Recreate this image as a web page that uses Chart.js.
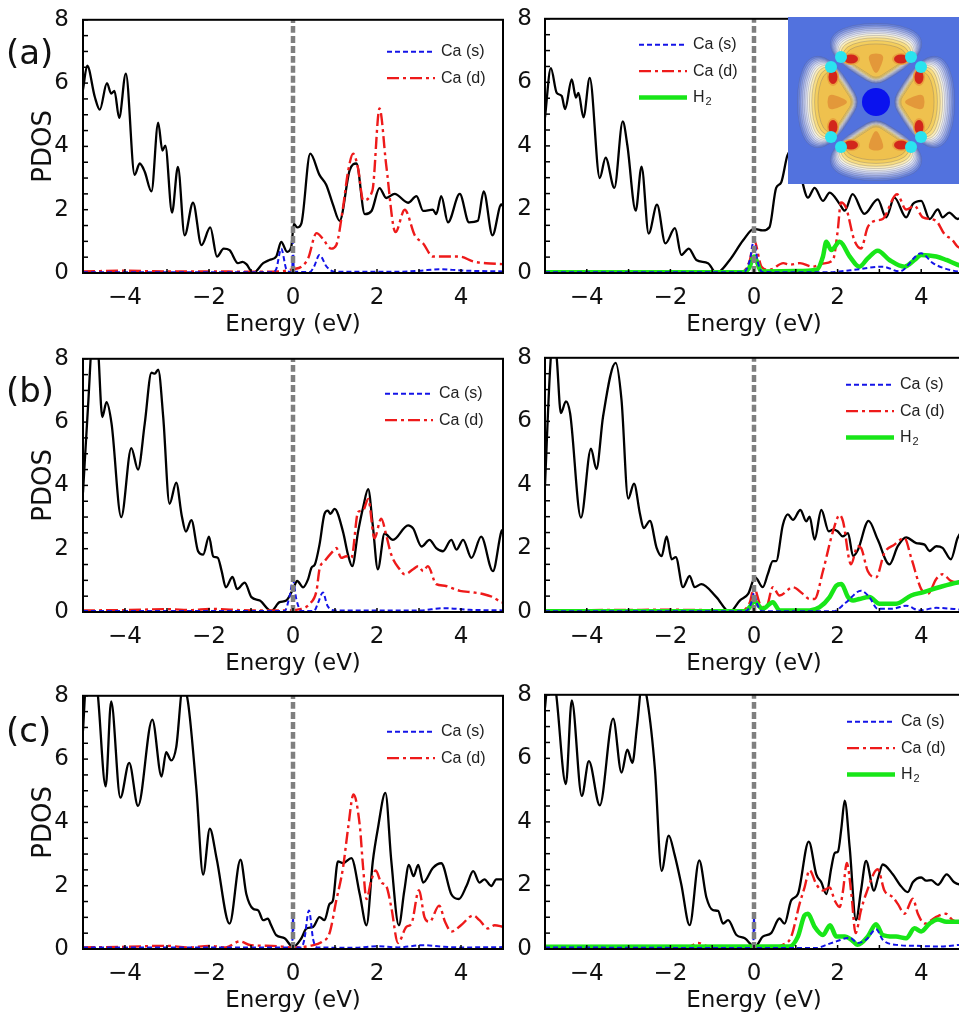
<!DOCTYPE html>
<html>
<head>
<meta charset="utf-8">
<script src="https://cdn.jsdelivr.net/npm/chart.js@4.4.1/dist/chart.umd.min.js"></script>
<style>
  body { margin: 0; width: 959px; height: 1017px; overflow: hidden; background: #fff; position: relative; }
  canvas { position: absolute; }
  .tag { position: absolute; font: 34px "DejaVu Sans"; line-height: 1; color: #111; }
</style>
</head>
<body>
<canvas id="a1" width="510" height="340" style="left:0;top:0"></canvas>
<canvas id="a2" width="480" height="340" style="left:490px;top:0"></canvas>
<canvas id="b1" width="510" height="340" style="left:0;top:339px"></canvas>
<canvas id="b2" width="480" height="340" style="left:490px;top:339px"></canvas>
<canvas id="c1" width="510" height="340" style="left:0;top:676px"></canvas>
<canvas id="c2" width="480" height="340" style="left:490px;top:676px"></canvas>
<canvas id="inset" width="175" height="167" style="left:788px;top:17px"></canvas>
<div class="tag" style="left:6px;top:35px">(a)</div>
<div class="tag" style="left:6px;top:373px">(b)</div>
<div class="tag" style="left:6px;top:713px">(c)</div>
<script>
// axes
const xTicks = [-4, -2, 0, 2, 4];
const yTicks = [0, 2, 4, 6, 8];
const zeroLine = [[0, 0], [0, 8]];

// (a) without H2
const a1Total = [[-5,5.8],[-4.9,6.55],[-4.72,5.57],[-4.6,5.16],[-4.43,6.0],[-4.33,5.67],[-4.25,5.75],[-4.14,4.9],[-3.98,6.3],[-3.77,3.1],[-3.65,3.46],[-3.53,3.2],[-3.37,2.58],[-3.21,4.75],[-3.11,3.87],[-3.04,4.02],[-2.88,1.91],[-2.74,3.35],[-2.58,1.19],[-2.38,2.22],[-2.18,0.88],[-1.97,1.44],[-1.81,0.52],[-1.65,0.77],[-1.51,0.72],[-1.31,0.31],[-1.2,0.35],[-1.11,0.28],[-0.95,0.0],[-0.71,0.31],[-0.56,0.41],[-0.4,0.52],[-0.28,0.98],[-0.14,0.67],[-0.04,0.83],[0.02,1.55],[0.1,1.44],[0.2,1.57],[0.41,3.77],[0.63,3.1],[0.79,2.79],[0.95,2.17],[1.11,1.65],[1.35,3.25],[1.51,3.46],[1.71,1.86],[1.87,1.96],[2.06,2.68],[2.22,2.37],[2.42,2.5],[2.74,2.22],[2.94,2.43],[3.1,1.96],[3.33,2.0],[3.41,1.86],[3.53,2.43],[3.69,1.6],[3.97,2.5],[4.19,1.6],[4.4,1.65],[4.54,2.58],[4.75,1.19],[4.96,2.17],[5,2.1]];
const a1CaS = [[-5,0.02],[-0.5,0.02],[-0.4,0.12],[-0.28,0.77],[-0.16,0.12],[-0.06,0.03],[-0.02,0.05],[0,1.0],[0.02,0.05],[0.4,0.03],[0.5,0.2],[0.63,0.57],[0.8,0.2],[1.0,0.04],[2.5,0.04],[3.0,0.07],[3.5,0.12],[4.0,0.08],[5,0.05]];
const a1CaD = [[-5,0.05],[-4,0.07],[-3,0.05],[-2,0.05],[-1,0.04],[-0.3,0.05],[0,0.12],[0.2,0.2],[0.36,0.46],[0.56,1.26],[0.71,1.08],[0.91,0.77],[1.03,0.88],[1.19,2.06],[1.31,3.2],[1.43,3.77],[1.55,3.3],[1.67,2.3],[1.89,2.6],[2.06,5.2],[2.22,3.4],[2.44,1.29],[2.66,2.0],[2.9,1.19],[3.1,0.93],[3.33,0.52],[3.97,0.52],[4.3,0.36],[4.6,0.31],[5,0.28]];

// (a) with H2
const a2Total = [[-5,4.9],[-4.86,6.45],[-4.72,5.67],[-4.6,5.57],[-4.52,5.16],[-4.36,6.09],[-4.26,5.52],[-4.2,5.67],[-4.08,4.9],[-3.93,6.14],[-3.69,2.99],[-3.55,3.63],[-3.34,2.68],[-3.14,4.77],[-3.03,4.02],[-2.83,1.96],[-2.69,3.35],[-2.52,1.24],[-2.32,2.15],[-2.12,0.93],[-1.89,1.41],[-1.74,0.57],[-1.56,0.77],[-1.38,0.41],[-1.1,0.31],[-0.9,0.0],[-0.58,0.41],[-0.26,1.03],[0,1.39],[0.21,1.34],[0.37,1.44],[0.53,2.68],[0.65,2.85],[0.8,3.7],[0.95,3.9],[1.1,3.3],[1.17,2.8],[1.29,2.37],[1.45,2.68],[1.65,2.27],[1.81,2.53],[2.05,2.17],[2.17,1.96],[2.36,2.48],[2.64,1.86],[2.96,2.32],[3.16,1.75],[3.36,2.37],[3.64,1.75],[3.8,2.17],[4.0,2.27],[4.2,1.7],[4.4,2.0],[4.51,1.75],[4.67,1.9],[4.87,1.7],[5,1.8]];
const a2CaS = [[-5,0.02],[-0.25,0.02],[-0.1,0.4],[0,1.05],[0.08,0.4],[0.2,0.03],[1.8,0.02],[2.05,0.05],[2.4,0.1],[3.08,0.2],[3.48,0.05],[4.0,0.62],[4.28,0.31],[4.55,0.15],[4.87,0.05],[5,0.04]];
const a2CaD = [[-5,0.04],[-0.3,0.04],[-0.1,0.4],[0,1.03],[0.18,0.2],[0.37,0.1],[0.7,0.31],[0.85,0.26],[1.1,0.31],[1.4,0.2],[1.65,0.3],[1.89,0.41],[2.0,1.3],[2.08,2.22],[2.2,2.06],[2.4,1.03],[2.56,0.77],[2.72,1.44],[2.92,1.65],[3.08,1.7],[3.42,2.48],[3.64,2.0],[3.84,2.11],[4.04,1.75],[4.35,1.65],[4.55,1.24],[4.75,1.03],[4.87,0.83],[5,0.75]];
const a2H2 = [[-5,0.02],[-0.3,0.02],[-0.12,0.15],[0,0.52],[0.18,0.05],[1.0,0.06],[1.5,0.1],[1.65,0.52],[1.73,0.98],[1.85,0.72],[2.05,0.98],[2.29,0.52],[2.52,0.2],[2.72,0.46],[2.96,0.7],[3.24,0.41],[3.6,0.2],[3.84,0.41],[4.0,0.57],[4.36,0.52],[4.6,0.41],[4.87,0.26],[5,0.22]];

// (b) without H2
const b1Total = [[-5,3.78],[-4.88,6.5],[-4.76,8.8],[-4.66,8.6],[-4.54,6.16],[-4.44,6.63],[-4.32,5.95],[-4.09,3.0],[-3.85,5.18],[-3.69,4.5],[-3.53,5.95],[-3.37,7.56],[-3.29,7.53],[-3.21,7.66],[-3.09,6.16],[-2.94,3.42],[-2.78,4.09],[-2.65,3.05],[-2.55,2.54],[-2.42,2.9],[-2.26,1.92],[-2.14,1.81],[-2.0,2.38],[-1.9,1.76],[-1.79,1.71],[-1.7,1.3],[-1.6,0.78],[-1.44,1.11],[-1.33,0.72],[-1.15,0.93],[-0.99,0.47],[-0.79,0.36],[-0.52,0.03],[-0.32,0.31],[-0.16,0.36],[0,0.72],[0.1,0.98],[0.24,0.78],[0.36,1.04],[0.44,1.4],[0.52,1.5],[0.63,2.12],[0.75,3.1],[0.83,3.2],[0.89,3.1],[0.99,3.26],[1.19,2.54],[1.31,1.81],[1.41,1.45],[1.55,2.54],[1.67,3.31],[1.79,3.88],[1.9,2.74],[2.02,1.35],[2.18,2.48],[2.38,2.28],[2.74,2.74],[2.86,2.64],[3.06,2.07],[3.25,2.28],[3.41,2.02],[3.57,1.92],[3.77,2.28],[3.89,1.97],[4.05,2.28],[4.25,1.71],[4.48,2.38],[4.76,1.29],[4.96,2.54],[5,2.6]];
const b1CaS = [[-5,0.03],[-0.2,0.03],[-0.08,0.5],[0,1.0],[0.08,0.4],[0.2,0.03],[0.5,0.03],[0.6,0.3],[0.71,0.62],[0.82,0.2],[1.0,0.05],[3.0,0.05],[3.6,0.12],[4.2,0.07],[5,0.05]];
const b1CaD = [[-5,0.05],[-4,0.06],[-3,0.09],[-2.4,0.06],[-2,0.1],[-1,0.05],[-0.2,0.05],[0.2,0.1],[0.4,0.26],[0.56,0.67],[0.63,1.35],[0.75,1.6],[0.95,1.92],[1.03,2.02],[1.15,1.71],[1.27,1.76],[1.39,1.71],[1.55,3.16],[1.67,3.21],[1.79,3.57],[1.94,2.33],[2.1,2.95],[2.22,2.43],[2.34,1.81],[2.54,1.35],[2.66,1.19],[2.86,1.35],[2.98,1.45],[3.1,1.29],[3.21,1.45],[3.41,0.88],[3.61,0.83],[3.73,0.78],[3.97,0.67],[4.29,0.62],[4.52,0.57],[4.76,0.47],[4.96,0.31],[5,0.3]];

// (b) with H2
const b2Total = [[-5,4.0],[-4.88,7.6],[-4.8,8.8],[-4.72,8.0],[-4.62,6.26],[-4.5,6.63],[-4.4,6.26],[-4.14,2.97],[-3.9,5.14],[-3.77,4.5],[-3.61,6.16],[-3.31,7.84],[-3.17,6.68],[-3.01,3.57],[-2.87,4.04],[-2.73,3.1],[-2.64,2.64],[-2.49,2.87],[-2.33,2.02],[-2.21,1.76],[-2.09,2.38],[-1.97,1.66],[-1.87,1.73],[-1.7,0.78],[-1.54,1.14],[-1.42,0.78],[-1.26,0.88],[-0.9,0.47],[-0.58,0.0],[-0.34,0.36],[-0.14,0.57],[0.03,1.09],[0.21,0.78],[0.33,1.19],[0.45,1.6],[0.53,1.6],[0.69,2.74],[0.81,3.07],[0.93,2.9],[1.11,3.21],[1.25,2.85],[1.33,3.0],[1.45,2.28],[1.61,3.21],[1.79,2.54],[1.89,2.59],[2.0,2.54],[2.12,2.38],[2.25,2.48],[2.37,1.76],[2.49,1.97],[2.74,2.87],[2.96,2.28],[3.24,1.5],[3.44,2.07],[3.64,2.35],[3.88,2.17],[4.08,2.12],[4.2,1.92],[4.36,2.07],[4.51,2.02],[4.71,1.66],[4.87,2.33],[5,2.6]];
const b2CaS = [[-5,0.02],[-0.2,0.02],[-0.06,0.3],[0,0.6],[0.06,0.3],[0.2,0.02],[1.9,0.02],[2.2,0.3],[2.56,0.67],[2.76,0.47],[2.96,0.1],[3.3,0.1],[3.64,0.2],[3.96,0.05],[4.36,0.13],[5,0.07]];
const b2CaD = [[-5,0.05],[-2,0.07],[-0.3,0.05],[-0.1,0.3],[0,0.78],[0.14,0.26],[0.29,0.15],[0.45,0.78],[0.61,0.52],[0.93,0.78],[1.17,0.57],[1.33,0.41],[1.45,0.41],[1.65,1.29],[1.89,2.54],[2.05,3.05],[2.13,2.85],[2.32,1.5],[2.48,2.07],[2.56,2.02],[2.72,1.29],[2.92,1.09],[3.12,1.86],[3.36,2.12],[3.6,2.33],[3.76,1.71],[4.0,0.72],[4.16,0.57],[4.36,1.04],[4.51,1.19],[4.71,0.98],[4.87,0.93],[5,0.9]];
const b2H2 = [[-5,0.02],[-0.2,0.02],[-0.08,0.2],[0,0.34],[0.21,0.1],[0.45,0.31],[0.61,0.05],[1.33,0.05],[1.57,0.15],[1.81,0.47],[1.97,0.83],[2.09,0.88],[2.25,0.47],[2.37,0.36],[2.52,0.41],[2.76,0.47],[3.0,0.26],[3.4,0.26],[3.76,0.52],[4.04,0.62],[4.43,0.78],[4.87,0.93],[5,0.95]];

// (c) without H2
const c1Total = [[-5,6.9],[-4.92,8.6],[-4.8,8.9],[-4.66,8.2],[-4.46,5.14],[-4.33,7.82],[-4.11,4.78],[-3.9,5.88],[-3.69,4.52],[-3.35,7.25],[-3.13,5.45],[-3.02,6.22],[-2.9,5.96],[-2.78,6.38],[-2.62,8.3],[-2.5,7.8],[-2.3,5.04],[-2.14,2.35],[-1.98,3.8],[-1.82,2.87],[-1.51,0.8],[-1.25,2.82],[-1.11,1.73],[-0.95,1.27],[-0.83,1.22],[-0.71,0.91],[-0.6,0.96],[-0.52,0.75],[-0.4,0.44],[-0.2,0.34],[0,0.06],[0.2,0.34],[0.32,0.65],[0.48,0.7],[0.63,1.01],[0.75,0.91],[0.87,1.42],[0.95,1.53],[1.07,2.77],[1.19,2.71],[1.39,2.87],[1.59,1.73],[1.75,0.75],[1.9,2.77],[2.02,3.8],[2.2,4.93],[2.34,2.79],[2.52,0.75],[2.65,1.84],[2.76,2.66],[2.87,2.3],[2.98,2.66],[3.1,2.1],[3.33,2.56],[3.53,2.71],[3.77,1.73],[3.95,1.58],[4.13,1.99],[4.29,2.46],[4.44,2.1],[4.56,2.2],[4.72,1.99],[4.84,2.2],[5,2.2]];
const c1CaS = [[-5,0.05],[-0.02,0.05],[0,1.0],[0.02,0.05],[0.2,0.05],[0.27,0.3],[0.38,1.22],[0.48,0.3],[0.58,0.05],[1.5,0.04],[2.0,0.09],[2.5,0.05],[3.1,0.12],[3.5,0.08],[4,0.05],[5,0.06]];
const c1CaD = [[-5,0.05],[-4,0.07],[-3,0.1],[-2.5,0.05],[-2,0.1],[-1.6,0.05],[-1.27,0.24],[-1.0,0.12],[-0.5,0.1],[0,0.05],[0.4,0.1],[0.71,0.24],[0.87,0.5],[1.03,1.53],[1.19,2.56],[1.31,3.8],[1.44,4.88],[1.59,3.9],[1.67,2.56],[1.75,1.58],[1.86,2.15],[1.97,2.48],[2.1,2.1],[2.22,1.99],[2.34,1.32],[2.5,0.19],[2.7,0.7],[2.82,0.8],[3.0,1.86],[3.13,1.01],[3.25,0.86],[3.48,1.37],[3.62,0.86],[3.77,0.55],[4.0,0.75],[4.29,1.06],[4.44,0.91],[4.64,0.65],[4.8,0.75],[5,0.7]];

// (c) with H2
const c2Total = [[-5,7.6],[-4.9,8.8],[-4.75,8.2],[-4.5,5.19],[-4.36,7.82],[-4.12,4.82],[-3.95,5.91],[-3.69,4.52],[-3.37,7.25],[-3.17,5.55],[-3.03,6.27],[-2.91,5.86],[-2.8,7.0],[-2.67,8.4],[-2.55,7.8],[-2.37,5.66],[-2.21,2.46],[-2.04,3.57],[-1.9,2.97],[-1.74,2.04],[-1.54,0.75],[-1.31,2.79],[-1.14,1.63],[-0.98,1.22],[-0.86,1.2],[-0.74,0.8],[-0.62,0.91],[-0.42,0.44],[-0.22,0.34],[0.02,0.06],[0.21,0.39],[0.41,0.5],[0.61,0.96],[0.73,0.8],[0.89,1.53],[1.05,1.73],[1.31,3.38],[1.49,2.35],[1.61,2.1],[1.73,1.73],[1.85,2.56],[1.93,3.02],[2.01,3.07],[2.09,3.8],[2.17,4.67],[2.29,3.18],[2.44,0.91],[2.56,1.84],[2.68,2.77],[2.87,1.84],[2.97,2.25],[3.08,2.66],[3.32,2.35],[3.48,2.04],[3.68,1.79],[3.8,2.1],[4.0,2.25],[4.12,2.15],[4.24,2.17],[4.4,2.02],[4.61,2.35],[4.79,2.1],[5,2.0]];
const c2CaS = [[-5,0.05],[-0.02,0.03],[0,1.0],[0.02,0.03],[1.5,0.03],[1.73,0.13],[1.97,0.24],[2.29,0.36],[2.48,0.19],[2.68,0.29],[2.92,0.62],[3.08,0.29],[3.4,0.13],[3.88,0.1],[4.4,0.08],[5,0.14]];
const c2CaD = [[-5,0.05],[-3,0.07],[-1.6,0.05],[-1.34,0.19],[-1.15,0.1],[-0.5,0.05],[0,0.03],[0.5,0.05],[0.69,0.13],[0.89,0.39],[1.09,1.42],[1.21,1.94],[1.33,2.48],[1.49,2.04],[1.65,1.84],[1.81,1.94],[1.93,1.53],[2.05,1.32],[2.13,1.84],[2.22,2.71],[2.33,1.73],[2.43,0.5],[2.56,1.22],[2.68,1.73],[2.96,2.51],[3.12,1.84],[3.32,1.63],[3.44,1.42],[3.6,1.11],[3.8,1.58],[3.92,1.11],[4.08,0.8],[4.36,1.01],[4.59,1.11],[4.75,0.91],[5,0.78]];
const c2H2 = [[-5,0.07],[0.85,0.08],[1.05,0.39],[1.21,1.06],[1.29,1.11],[1.45,0.7],[1.65,0.44],[1.82,0.75],[1.97,0.39],[2.17,0.39],[2.33,0.29],[2.48,0.13],[2.72,0.39],[2.92,0.78],[3.08,0.44],[3.4,0.39],[3.64,0.34],[3.84,0.65],[4.0,0.55],[4.2,0.8],[4.4,0.93],[4.6,0.86],[5,0.86]];

const xy = pts => pts.map(([x, y]) => ({ x, y }));

// frame box + inward ticks
const framePlugin = {
  id: 'frame',
  afterDraw(chart) {
    const { ctx, chartArea: a, scales: { x, y } } = chart;
    ctx.save();
    ctx.strokeStyle = '#000';
    ctx.lineWidth = 2;
    ctx.strokeRect(a.left, a.top, a.right - a.left, a.bottom - a.top);
    ctx.lineWidth = 1.5;
    for (let v = 0; v <= 8; v += 0.5) {
      const py = y.getPixelForValue(v);
      ctx.beginPath(); ctx.moveTo(a.left, py); ctx.lineTo(a.left + 5, py); ctx.stroke();
    }
    for (let e = -5; e <= 5; e++) {
      const px = x.getPixelForValue(e);
      ctx.beginPath(); ctx.moveTo(px, a.bottom); ctx.lineTo(px, a.bottom - 4); ctx.stroke();
    }
    ctx.restore();
  }
};

// line-sample legend
const legendPlugin = {
  id: 'pdosLegend',
  afterDraw(chart, args, opts) {
    const { ctx, chartArea: a } = chart;
    const items = chart.data.datasets.filter(d => d.legendText).sort((p, q) => p.legendRank - q.legendRank);
    ctx.save();
    items.forEach((d, i) => {
      const y0 = a.top + opts.y + i * 26.3;
      const x0 = a.left + opts.x;
      ctx.strokeStyle = d.borderColor;
      ctx.lineWidth = d.borderWidth;
      ctx.setLineDash(d.borderDash || []);
      ctx.beginPath(); ctx.moveTo(x0, y0); ctx.lineTo(x0 + 48, y0); ctx.stroke();
      ctx.setLineDash([]);
      ctx.fillStyle = '#222';
      ctx.textBaseline = 'middle';
      ctx.font = '16px "Liberation Sans"';
      if (d.legendText === 'H2') {
        ctx.fillText('H', x0 + 54, y0);
        ctx.font = '11px "Liberation Sans"';
        ctx.fillText('2', x0 + 54 + ctx.measureText('H').width * 1.45 + 1, y0 + 5);
      } else {
        ctx.fillText(d.legendText, x0 + 54, y0);
      }
    });
    ctx.restore();
  }
};

const fmt = v => (v < 0 ? '\u2212' + Math.abs(v) : String(v));

function makePanel(id, total, caS, caD, h2, left, legendPos) {
  const datasets = [
    { data: xy(zeroLine), borderColor: '#7f7f7f', borderWidth: 4.5, borderDash: [7, 3] },
    { data: xy(caS), borderColor: '#1414e8', borderWidth: 2, borderDash: [5, 3], legendText: 'Ca (s)', legendRank: 0 },
  ];
  if (h2) datasets.push({ data: xy(h2), borderColor: '#18e618', borderWidth: 4.5, legendText: 'H2', legendRank: 2 });
  datasets.push({ data: xy(caD), borderColor: '#ee1a1a', borderWidth: 2.4, borderDash: [12, 4, 3, 4], legendText: 'Ca (d)', legendRank: 1 });
  datasets.push({ data: xy(total), borderColor: '#000', borderWidth: 2.3 });
  datasets.forEach(d => { d.pointRadius = 0; d.fill = false; d.cubicInterpolationMode = 'monotone'; });

  new Chart(document.getElementById(id), {
    type: 'line',
    data: { datasets },
    options: {
      responsive: false,
      animation: false,
      events: [],
      layout: { padding: { top: 15, right: 7, left: 0, bottom: 0 } },
      plugins: { legend: { display: false }, tooltip: { enabled: false }, pdosLegend: legendPos },
      scales: {
        x: {
          type: 'linear', min: -5, max: 5,
          afterBuildTicks: s => { s.ticks = xTicks.map(v => ({ value: v })); },
          afterFit: s => { s.height = 67; },
          ticks: { autoSkip: false, maxRotation: 0, padding: 3, color: '#111', font: { family: 'DejaVu Sans', size: 23 }, callback: fmt },
          grid: { display: false },
          border: { display: false },
          title: { display: true, text: 'Energy (eV)', color: '#111', font: { family: 'DejaVu Sans', size: 23 }, padding: { top: 0, bottom: 1 } }
        },
        y: {
          type: 'linear', min: 0, max: 8,
          afterBuildTicks: s => { s.ticks = yTicks.map(v => ({ value: v })); },
          afterFit: s => { s.width = left ? 83 : 55; },
          ticks: { padding: left ? 6 : 5, color: '#111', font: { family: 'DejaVu Sans', size: 23 }, callback: fmt },
          grid: { display: false },
          border: { display: false },
          title: { display: left, text: 'PDOS', color: '#111', font: { family: 'DejaVu Sans', size: 26 }, padding: { top: 29, bottom: 0 } }
        }
      }
    },
    plugins: [framePlugin, legendPlugin]
  });
}

makePanel('a1', a1Total, a1CaS, a1CaD, null, true, { x: 304, y: 32 });
makePanel('a2', a2Total, a2CaS, a2CaD, a2H2, false, { x: 94, y: 26 });
makePanel('b1', b1Total, b1CaS, b1CaD, null, true, { x: 302, y: 35 });
makePanel('b2', b2Total, b2CaS, b2CaD, b2H2, false, { x: 301, y: 27 });
makePanel('c1', c1Total, c1CaS, c1CaD, null, true, { x: 304, y: 36 });
makePanel('c2', c2Total, c2CaS, c2CaD, c2H2, false, { x: 302, y: 27 });

// inset: charge-density contour picture
(function drawInset() {
  const g = document.getElementById('inset').getContext('2d');
  g.fillStyle = '#5272de';
  g.fillRect(0, 0, 175, 167);
  const cx = 88, cy = 85;
  const outer = [[16,0],[27,-19],[40,-37],[55,-47],[69,-43],[77,-24],[79,0],[77,24],[69,43],[55,47],[40,37],[27,19]];
  const inner = [[24,0],[31,-10],[37,-20],[43,-29],[50,-25],[54,-12],[55,0],[54,12],[50,25],[43,29],[37,20],[31,10]];
  const fills = ['#6783e2','#8299e8','#9daeed','#b8c4f1','#d0d8f5','#e6e9f6','#f6f3e2','#faebb6','#f8dd82','#f4ce5d','#efc14e'];
  const steps = [0, 0.07, 0.14, 0.21, 0.28, 0.35, 0.42, 0.5, 0.6, 0.72, 0.86];
  function smooth(pts) {
    const n = pts.length;
    const mid = (p, q) => [(p[0] + q[0]) / 2, (p[1] + q[1]) / 2];
    g.beginPath();
    const m0 = mid(pts[n - 1], pts[0]);
    g.moveTo(m0[0], m0[1]);
    for (let i = 0; i < n; i++) {
      const p = pts[i], m = mid(p, pts[(i + 1) % n]);
      g.quadraticCurveTo(p[0], p[1], m[0], m[1]);
    }
    g.closePath();
  }
  [-Math.PI / 2, 0, Math.PI / 2, Math.PI].forEach(ang => {
    g.save();
    g.translate(cx, cy);
    g.rotate(ang);
    steps.forEach((t, k) => {
      smooth(outer.map((p, i) => [p[0] + (inner[i][0] - p[0]) * t, p[1] + (inner[i][1] - p[1]) * t]));
      g.fillStyle = fills[k];
      g.fill();
      g.strokeStyle = 'rgba(90,90,110,0.4)';
      g.lineWidth = 0.7;
      g.stroke();
    });
    smooth([[26,0],[38,-6],[47,-8],[49,0],[47,8],[38,6]]);
    g.fillStyle = '#e3983a';
    g.fill();
    [-1, 1].forEach(sgn => {
      g.beginPath(); g.ellipse(43, sgn * 25, 6, 9, 0, 0, Math.PI * 2);
      g.fillStyle = '#e9a23f'; g.fill();
      g.beginPath(); g.ellipse(43, sgn * 25, 4.5, 7, 0, 0, Math.PI * 2);
      g.fillStyle = '#d2261c'; g.fill();
      g.beginPath(); g.arc(45, sgn * 35, 6, 0, Math.PI * 2);
      g.fillStyle = '#2ae4ef'; g.fill();
    });
    g.restore();
  });
  g.beginPath();
  g.arc(cx, cy, 14, 0, Math.PI * 2);
  g.fillStyle = '#0a12ee';
  g.fill();
})();
</script>
</body>
</html>
